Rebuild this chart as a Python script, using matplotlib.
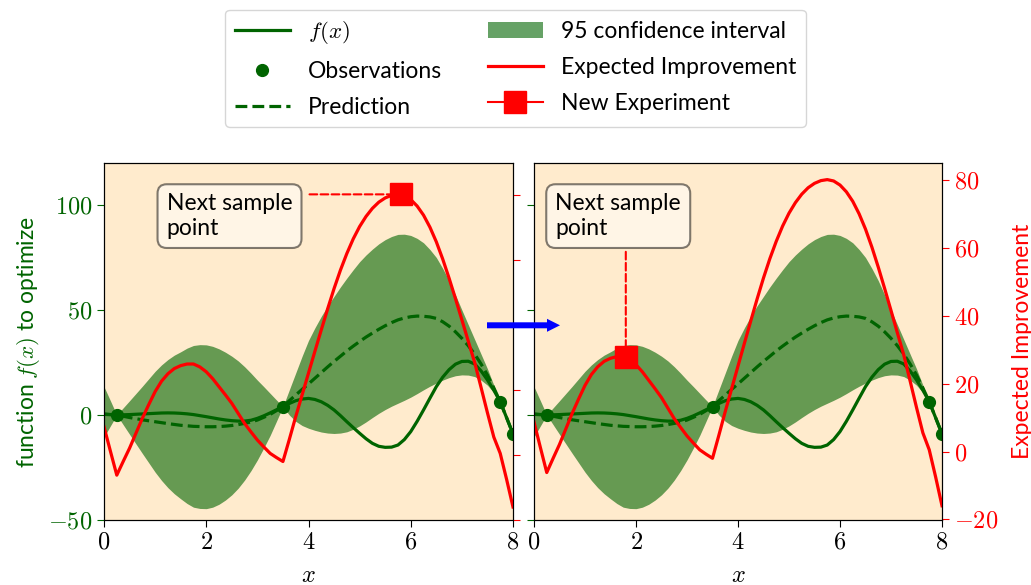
import matplotlib
matplotlib.use("Agg")
import matplotlib.pyplot as plt
from matplotlib.patches import FancyArrow
from matplotlib.ticker import FuncFormatter

plt.rcParams["font.family"] = ["Lato", "DejaVu Sans"]
plt.rcParams["mathtext.fontset"] = "cm"
plt.rcParams["font.size"] = 16.5
plt.rcParams["xtick.labelsize"] = 17.5
plt.rcParams["ytick.labelsize"] = 17.5
plt.rcParams["xtick.major.size"] = 5
plt.rcParams["ytick.major.size"] = 5

# ---- data -------------------------------------------------------------
x = [0.0, 0.125, 0.25, 0.375, 0.5, 0.625, 0.75, 0.875, 1.0, 1.125, 1.25,
     1.375, 1.5, 1.625, 1.75, 1.875, 2.0, 2.125, 2.25, 2.375, 2.5, 2.625,
     2.75, 2.875, 3.0, 3.125, 3.25, 3.375, 3.5, 3.625, 3.75, 3.875, 4.0,
     4.125, 4.25, 4.375, 4.5, 4.625, 4.75, 4.875, 5.0, 5.125, 5.25, 5.375,
     5.5, 5.625, 5.75, 5.875, 6.0, 6.125, 6.25, 6.375, 6.5, 6.625, 6.75,
     6.875, 7.0, 7.125, 7.25, 7.375, 7.5, 7.625, 7.75, 7.875, 8.0]

f_true = [0.3, 0.15, 0.0, 0.1, 0.2, 0.35, 0.5, 0.65, 0.8, 0.95, 1.0,
          0.95, 0.8, 0.55, 0.2, -0.3, -0.8, -1.35, -1.9, -2.35, -2.7, -2.9,
          -2.9, -2.5, -1.6, -0.4, 1.0, 2.5, 4.0, 5.5, 6.8, 7.6, 7.9,
          7.4, 6.3, 4.6, 2.4, -0.3, -3.2, -6.0, -8.7, -11.3, -13.5, -14.9,
          -15.4, -15.3, -14.3, -11.7, -7.9, -3.0, 2.4, 8.0, 13.5, 18.0, 21.6,
          24.2, 25.5, 25.6, 24.3, 21.0, 16.7, 11.8, 6.3, -1.3, -9.0]

prediction = [0.5, 0.25, 0.0, -0.6, -1.2, -1.75, -2.3, -2.75, -3.2, -3.65,
              -4.1, -4.5, -4.9, -5.15, -5.4, -5.5, -5.6, -5.6, -5.5, -5.3,
              -5.0, -4.55, -4.0, -3.3, -2.4, -1.1, 0.3, 2.1, 4.0, 6.8, 9.5,
              12.2, 14.8, 17.5, 20.2, 22.9, 25.5, 28.0, 30.5, 32.8, 35.0,
              37.1, 39.0, 40.8, 42.5, 44.0, 45.3, 46.2, 46.8, 47.1, 47.0, 46.7,
              46.0, 44.4, 42.3, 39.6, 36.5, 33.0, 29.0, 24.3, 19.0, 12.9, 6.3,
              -1.3, -9.0]

ci_upper = [13.5, 6.8, 0.0, 3.4, 6.8, 10.25, 13.7, 17.25, 20.8, 23.85, 26.4,
            28.5, 30.1, 31.85, 33.1, 33.5, 33.4, 32.7, 31.5, 29.9, 28.0, 25.75,
            23.0, 19.9, 16.6, 13.5, 10.3, 7.1, 4.0, 12.0, 20.0, 28.0, 35.5,
            41.5, 47.0, 52.0, 56.5, 61.0, 65.2, 69.2, 73.0, 76.2, 79.0, 81.5,
            83.5, 85.0, 86.0, 86.1, 85.5, 84.1, 82.0, 78.8, 75.0, 69.8, 64.0,
            57.2, 50.0, 43.0, 36.0, 29.0, 22.0, 14.2, 6.3, -1.3, -9.0]

ci_lower = [-10.5, -5.2, 0.0, -4.6, -9.2, -13.75, -18.3, -22.75, -27.2,
            -31.15, -34.6, -37.5, -39.9, -42.15, -43.9, -44.5, -44.6, -43.9,
            -42.5, -40.5, -38.0, -34.85, -31.0, -26.5, -21.4, -15.7, -9.7,
            -2.9, 4.0, 0.0, -3.0, -5.0, -6.3, -7.3, -8.1, -8.6, -8.8, -8.6,
            -8.0, -6.8, -5.2, -3.3, -1.2, 0.8, 2.6, 4.2, 5.6, 7.0, 8.5, 10.2,
            12.0, 13.7, 15.2, 16.6, 17.8, 18.7, 19.1, 19.0, 18.3, 16.6, 14.2,
            10.7, 6.3, -1.3, -9.0]

expected_improvement = [8.7, 1.2, -6.2, -2.0, 2.1, 6.7, 11.3, 15.5, 19.5,
                        22.7, 25.0, 26.6, 27.5, 28.0, 28.0, 27.1, 25.6, 23.5,
                        21.0, 18.5, 15.9, 12.8, 9.7, 7.1, 4.6, 2.5, 0.5, -0.8,
                        -2.0, 4.8, 11.8, 18.5, 25.2, 31.9, 38.5, 45.0, 51.2,
                        56.9, 62.0, 66.5, 70.3, 73.4, 75.9, 77.8, 79.1, 79.9,
                        80.2, 79.8, 78.6, 76.6, 73.8, 70.1, 65.6, 60.3, 54.4,
                        48.1, 41.6, 35.0, 28.5, 20.8, 13.0, 5.5, 0.5, -7.5,
                        -16.0]

obs_x = [0.25, 3.5, 7.75, 8.0]
obs_y = [0.0, 4.0, 6.3, -9.0]

# chosen next sample in each panel
new_x = [5.8, 1.8]
new_ei = [80.2, 27.8]

x_ticks = [0, 2, 4, 6, 8]
f_ticks = [-50, 0, 50, 100]
ei_ticks = [-20, 0, 20, 40, 60, 80]

# ---- figure -----------------------------------------------------------
W, H = 1031, 585
fig = plt.figure(figsize=(W / 100, H / 100), dpi=100)


def px_rect(left, top, right, bottom):
    return [left / W, 1 - bottom / H, (right - left) / W, (bottom - top) / H]


ax1 = fig.add_axes(px_rect(104, 163, 513, 520))
ax2 = fig.add_axes(px_rect(534, 163, 942, 520), sharey=ax1)

math_fmt = FuncFormatter(lambda v, pos: f"${v:g}$")
green = "darkgreen"
bg = "blanchedalmond"

handles = {}
twins = []
for ax in (ax1, ax2):
    ax.set_facecolor(bg)
    h_ci = ax.fill_between(x, ci_lower, ci_upper, color=green, alpha=0.6,
                           lw=0, label="95 confidence interval")
    h_f, = ax.plot(x, f_true, color=green, lw=2.3, label="$f(x)$")
    h_obs, = ax.plot(obs_x, obs_y, "o", color=green, ms=8.5,
                     label="Observations")
    h_pred, = ax.plot(x, prediction, "--", color=green, lw=2.3,
                      label="Prediction")
    ax.set_xlim(0, 8)
    ax.set_ylim(-50, 120)
    ax.set_xticks(x_ticks)
    ax.set_yticks(f_ticks)
    ax.xaxis.set_major_formatter(math_fmt)
    ax.yaxis.set_major_formatter(math_fmt)
    ax.set_xlabel("$x$", fontsize=17.5, labelpad=9)
    ax.tick_params(axis="y", colors=green)

    tw = ax.twinx()
    h_ei, = tw.plot(x, expected_improvement, color="red", lw=2.3,
                    label="Expected Improvement")
    tw.set_yticks(ei_ticks)
    tw.yaxis.set_major_formatter(math_fmt)
    tw.tick_params(axis="y", colors="red")
    twins.append(tw)
    handles.update({"f": h_f, "obs": h_obs, "pred": h_pred, "ci": h_ci,
                    "ei": h_ei})

ax1.set_ylabel("function $f(x)$ to optimize", color=green)
ax2.tick_params(axis="y", labelleft=False)

tw1, tw2 = twins
tw1.set_ylim(-20, 89.85)
tw1.tick_params(axis="y", labelright=False)
tw2.set_ylim(-20.2, 85.1)
tw2.set_ylabel("Expected Improvement", color="red", labelpad=10)

box = dict(boxstyle="round,pad=0.4", facecolor="white", edgecolor="black",
           alpha=0.5, lw=1.5)
dash = dict(arrowstyle="-", linestyle="--", color="red", lw=1.5,
            shrinkA=0, shrinkB=0)

# left panel: the EI maximum
h_new, = tw1.plot([new_x[0]], [new_ei[0]], "s-", color="red", ms=16,
                  label="New Experiment", zorder=5)
tw1.annotate("", xy=(new_x[0], new_ei[0]), xytext=(4.02, new_ei[0]),
             arrowprops=dash)
tw1.text(0.1533, 0.9148, "Next sample\npoint", transform=tw1.transAxes,
         ha="left", va="top", bbox=box)

# right panel: the local EI peak
tw2.plot([new_x[1]], [new_ei[1]], "s-", color="red", ms=16, zorder=5)
tw2.annotate("", xy=(new_x[1], new_ei[1]), xytext=(new_x[1], 58.9),
             arrowprops=dash)
tw2.text(0.0525, 0.9148, "Next sample\npoint", transform=tw2.transAxes,
         ha="left", va="top", bbox=box)

# arrow linking the two panels
fig.add_artist(FancyArrow(4.87, 2.597, 0.73, 0.0, width=0.06,
                          head_width=0.13, head_length=0.13,
                          length_includes_head=True, color="blue", lw=0,
                          transform=fig.dpi_scale_trans))

order = ["f", "obs", "pred", "ci", "ei"]
leg_handles = [handles[k] for k in order] + [h_new]
fig.legend(leg_handles, [h.get_label() for h in leg_handles],
           loc="upper center", bbox_to_anchor=(0.5, 1.003), ncol=2,
           handlelength=2.4, labelspacing=0.65)

fig.savefig("out.png", dpi=100)
